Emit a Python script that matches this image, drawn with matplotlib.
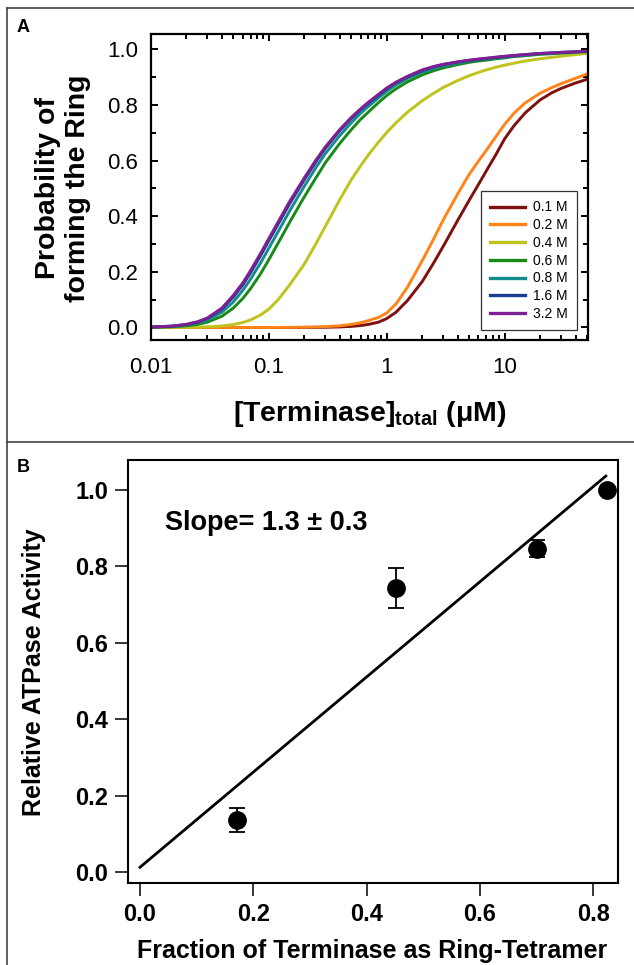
import matplotlib
matplotlib.use("Agg")
import matplotlib.pyplot as plt
from matplotlib.lines import Line2D
from matplotlib.ticker import LogLocator, FixedLocator, FixedFormatter, MultipleLocator, NullFormatter

plt.rcParams['font.family'] = ['Liberation Sans', 'DejaVu Sans']
plt.rcParams['mathtext.fontset'] = 'custom'
plt.rcParams['mathtext.rm'] = 'Liberation Sans'
plt.rcParams['mathtext.bf'] = 'Liberation Sans:bold'

# ---------------- Panel A data ----------------
conc = [0.01, 0.015, 0.02, 0.025, 0.03, 0.04, 0.05, 0.06, 0.07, 0.085,
        0.1, 0.12, 0.15, 0.2, 0.25, 0.3, 0.4, 0.5, 0.6, 0.7,
        0.85, 1, 1.2, 1.5, 2, 2.5, 3, 4, 5, 6,
        7, 8.5, 10, 12, 15, 20, 25, 30, 40, 50]
salt_labels = ['0.1 M', '0.2 M', '0.4 M', '0.6 M', '0.8 M', '1.6 M', '3.2 M']
salt_colors = ['#7f1010', '#ff8418', '#bfc41c', '#178a17', '#148c8c', '#1c3c92', '#7e1f94']
p_01 = [0, 0, 0, 0, 0, 0, 0, 0, 0, 0,
        0, 0, 0, 0.0002, 0.0004, 0.0008, 0.002, 0.004, 0.007, 0.011,
        0.019, 0.032, 0.055, 0.097, 0.165, 0.232, 0.29, 0.385, 0.457, 0.514,
        0.563, 0.624, 0.678, 0.725, 0.772, 0.818, 0.843, 0.859, 0.879, 0.892]
p_02 = [0, 0, 0, 0, 0, 0, 0, 0, 0, 0,
        0, 0.0002, 0.0004, 0.001, 0.0018, 0.003, 0.006, 0.011, 0.017, 0.025,
        0.036, 0.052, 0.085, 0.145, 0.24, 0.318, 0.385, 0.48, 0.55, 0.598,
        0.637, 0.688, 0.73, 0.77, 0.808, 0.842, 0.862, 0.876, 0.896, 0.911]
p_04 = [0.0001, 0.0003, 0.0007, 0.0014, 0.0024, 0.0055, 0.0106, 0.018, 0.027, 0.045,
        0.066, 0.1, 0.153, 0.228, 0.30, 0.362, 0.46, 0.531, 0.581, 0.621,
        0.666, 0.701, 0.736, 0.774, 0.815, 0.842, 0.862, 0.888, 0.905, 0.917,
        0.926, 0.936, 0.943, 0.95, 0.958, 0.966, 0.971, 0.975, 0.981, 0.985]
p_06 = [0.00075, 0.0025, 0.006, 0.0113, 0.019, 0.0405, 0.07, 0.104, 0.14, 0.193,
        0.244, 0.304, 0.378, 0.47, 0.537, 0.591, 0.662, 0.711, 0.748, 0.775,
        0.808, 0.834, 0.858, 0.883, 0.908, 0.923, 0.933, 0.945, 0.953, 0.958,
        0.961, 0.966, 0.969, 0.974, 0.977, 0.982, 0.984, 0.986, 0.989, 0.9915]
p_08 = [0.0011, 0.0037, 0.0085, 0.0165, 0.027, 0.055, 0.092, 0.133, 0.174, 0.232,
        0.285, 0.345, 0.419, 0.508, 0.574, 0.624, 0.69, 0.736, 0.77, 0.795,
        0.825, 0.849, 0.872, 0.895, 0.918, 0.931, 0.94, 0.95, 0.958, 0.962,
        0.965, 0.969, 0.972, 0.976, 0.979, 0.984, 0.986, 0.988, 0.99, 0.9925]
p_16 = [0.0014, 0.0046, 0.0106, 0.0195, 0.032, 0.066, 0.11, 0.153, 0.197, 0.258,
        0.312, 0.372, 0.445, 0.531, 0.595, 0.643, 0.708, 0.751, 0.783, 0.807,
        0.835, 0.858, 0.88, 0.901, 0.924, 0.937, 0.945, 0.954, 0.96, 0.964,
        0.967, 0.971, 0.974, 0.977, 0.981, 0.985, 0.987, 0.989, 0.991, 0.993]
p_32 = [0.0015, 0.005, 0.0115, 0.021, 0.034, 0.07, 0.116, 0.16, 0.205, 0.266,
        0.32, 0.38, 0.453, 0.538, 0.601, 0.648, 0.712, 0.755, 0.786, 0.81,
        0.838, 0.861, 0.882, 0.903, 0.926, 0.938, 0.946, 0.955, 0.961, 0.965,
        0.968, 0.972, 0.975, 0.978, 0.981, 0.985, 0.987, 0.989, 0.991, 0.993]
series_a = [p_01, p_02, p_04, p_06, p_08, p_16, p_32]
xticks_a = [0.01, 0.1, 1, 10]
xticklabels_a = ['0.01', '0.1', '1', '10']

# ---------------- Panel B data ----------------
frac_ring = [0.172, 0.451, 0.701, 0.8235]
rel_atpase = [0.135, 0.744, 0.847, 1.0]
rel_err = [0.031, 0.052, 0.022, 0.0]
fit_x = [0.0, 0.822]
fit_y = [0.012, 1.037]

W, H = 634, 965
fig = plt.figure(figsize=(W / 100, H / 100), dpi=100)

# ---------- Panel A ----------
axA = fig.add_axes([151 / W, 1 - 340 / H, 437 / W, 306 / H])
for ys, c, lab in zip(series_a, salt_colors, salt_labels):
    axA.plot(conc, ys, color=c, lw=2.1, label=lab)
axA.set_xscale('log')
axA.set_xlim(0.01, 51)
axA.set_ylim(-0.045, 1.055)
axA.xaxis.set_major_locator(FixedLocator(xticks_a))
axA.xaxis.set_major_formatter(FixedFormatter(xticklabels_a))
axA.xaxis.set_minor_locator(LogLocator(base=10, subs=range(2, 10)))
axA.xaxis.set_minor_formatter(NullFormatter())
axA.yaxis.set_major_locator(MultipleLocator(0.2))
axA.yaxis.set_minor_locator(MultipleLocator(0.1))
axA.yaxis.set_major_formatter(plt.FuncFormatter(lambda v, p: f'{v:.1f}'))
for s in axA.spines.values():
    s.set_linewidth(1.6)
axA.tick_params(which='both', direction='in', top=True, right=True, width=1.4)
axA.tick_params(which='major', length=5, labelsize=16)
axA.tick_params(which='minor', length=3.5)
axA.tick_params(axis='y', which='major', pad=9)
axA.tick_params(axis='x', which='major', pad=12)
leg = axA.legend(loc='lower right', bbox_to_anchor=(0.974, 0.033), fontsize=10,
                 frameon=True, fancybox=False, edgecolor='#333333', framealpha=1,
                 handlelength=2.5, handletextpad=0.55, labelspacing=0.27,
                 borderpad=0.65, borderaxespad=0)
leg.get_frame().set_linewidth(0.9)
for l in leg.get_lines():
    l.set_linewidth(2.4)

fig.text(63 / W, 1 - 188 / H, 'Probability of\nforming the Ring', rotation=90,
         ha='center', va='center', fontsize=20.5, fontweight='bold',
         multialignment='center')
fig.text(369.5 / W, 1 - 414 / H, r'[Terminase]$_\mathbf{total}$ (μM)',
         ha='center', va='center', fontsize=20.5, fontweight='bold')
fig.text(17 / W, 1 - 19 / H, 'A', ha='left', va='top', fontsize=13, fontweight='bold')

# ---------- Panel B ----------
axB = fig.add_axes([127.7 / W, 1 - 883.3 / H, 490.6 / W, 423.3 / H])
axB.plot(fit_x, fit_y, color='black', lw=2.0)
axB.errorbar(frac_ring, rel_atpase, yerr=rel_err, fmt='o', color='black',
             ms=12.5, capsize=6, elinewidth=1.3, capthick=1.3)
axB.set_xlim(-0.0217, 0.844)
axB.set_ylim(-0.030, 1.079)
axB.xaxis.set_major_locator(FixedLocator([0.0, 0.2, 0.4, 0.6, 0.8]))
axB.yaxis.set_major_locator(FixedLocator([0.0, 0.2, 0.4, 0.6, 0.8, 1.0]))
axB.xaxis.set_major_formatter(plt.FuncFormatter(lambda v, p: f'{v:.1f}'))
axB.yaxis.set_major_formatter(plt.FuncFormatter(lambda v, p: f'{v:.1f}'))
for s in axB.spines.values():
    s.set_linewidth(1.5)
axB.tick_params(direction='out', length=9.5, width=1.1, labelsize=17)
axB.tick_params(axis='y', pad=4.5)
axB.tick_params(axis='x', pad=5)
for t in axB.get_xticklabels() + axB.get_yticklabels():
    t.set_fontweight('bold')
axB.text(0.044, 0.913, 'Slope= 1.3 ± 0.3', ha='left', va='center',
         fontsize=19.5, fontweight='bold')

fig.text(34 / W, 1 - 672 / H, 'Relative ATPase Activity', rotation=90,
         ha='center', va='center', fontsize=18, fontweight='bold')
fig.text(372.5 / W, 1 - 958 / H, 'Fraction of Terminase as Ring-Tetramer',
         ha='center', va='baseline', fontsize=18, fontweight='bold')
fig.text(17 / W, 1 - 459 / H, 'B', ha='left', va='top', fontsize=13, fontweight='bold')

# ---------- Panel borders ----------
bc = '#444444'
xl = 7 / W
yt = 1 - 7.5 / H
yd = 1 - 441.5 / H
fig.add_artist(Line2D([xl, xl], [0, yt], transform=fig.transFigure, color=bc, lw=1.2))
fig.add_artist(Line2D([xl, 1], [yt, yt], transform=fig.transFigure, color=bc, lw=1.2))
fig.add_artist(Line2D([xl, 1], [yd, yd], transform=fig.transFigure, color=bc, lw=1.2))

fig.savefig('out.png', dpi=100)
